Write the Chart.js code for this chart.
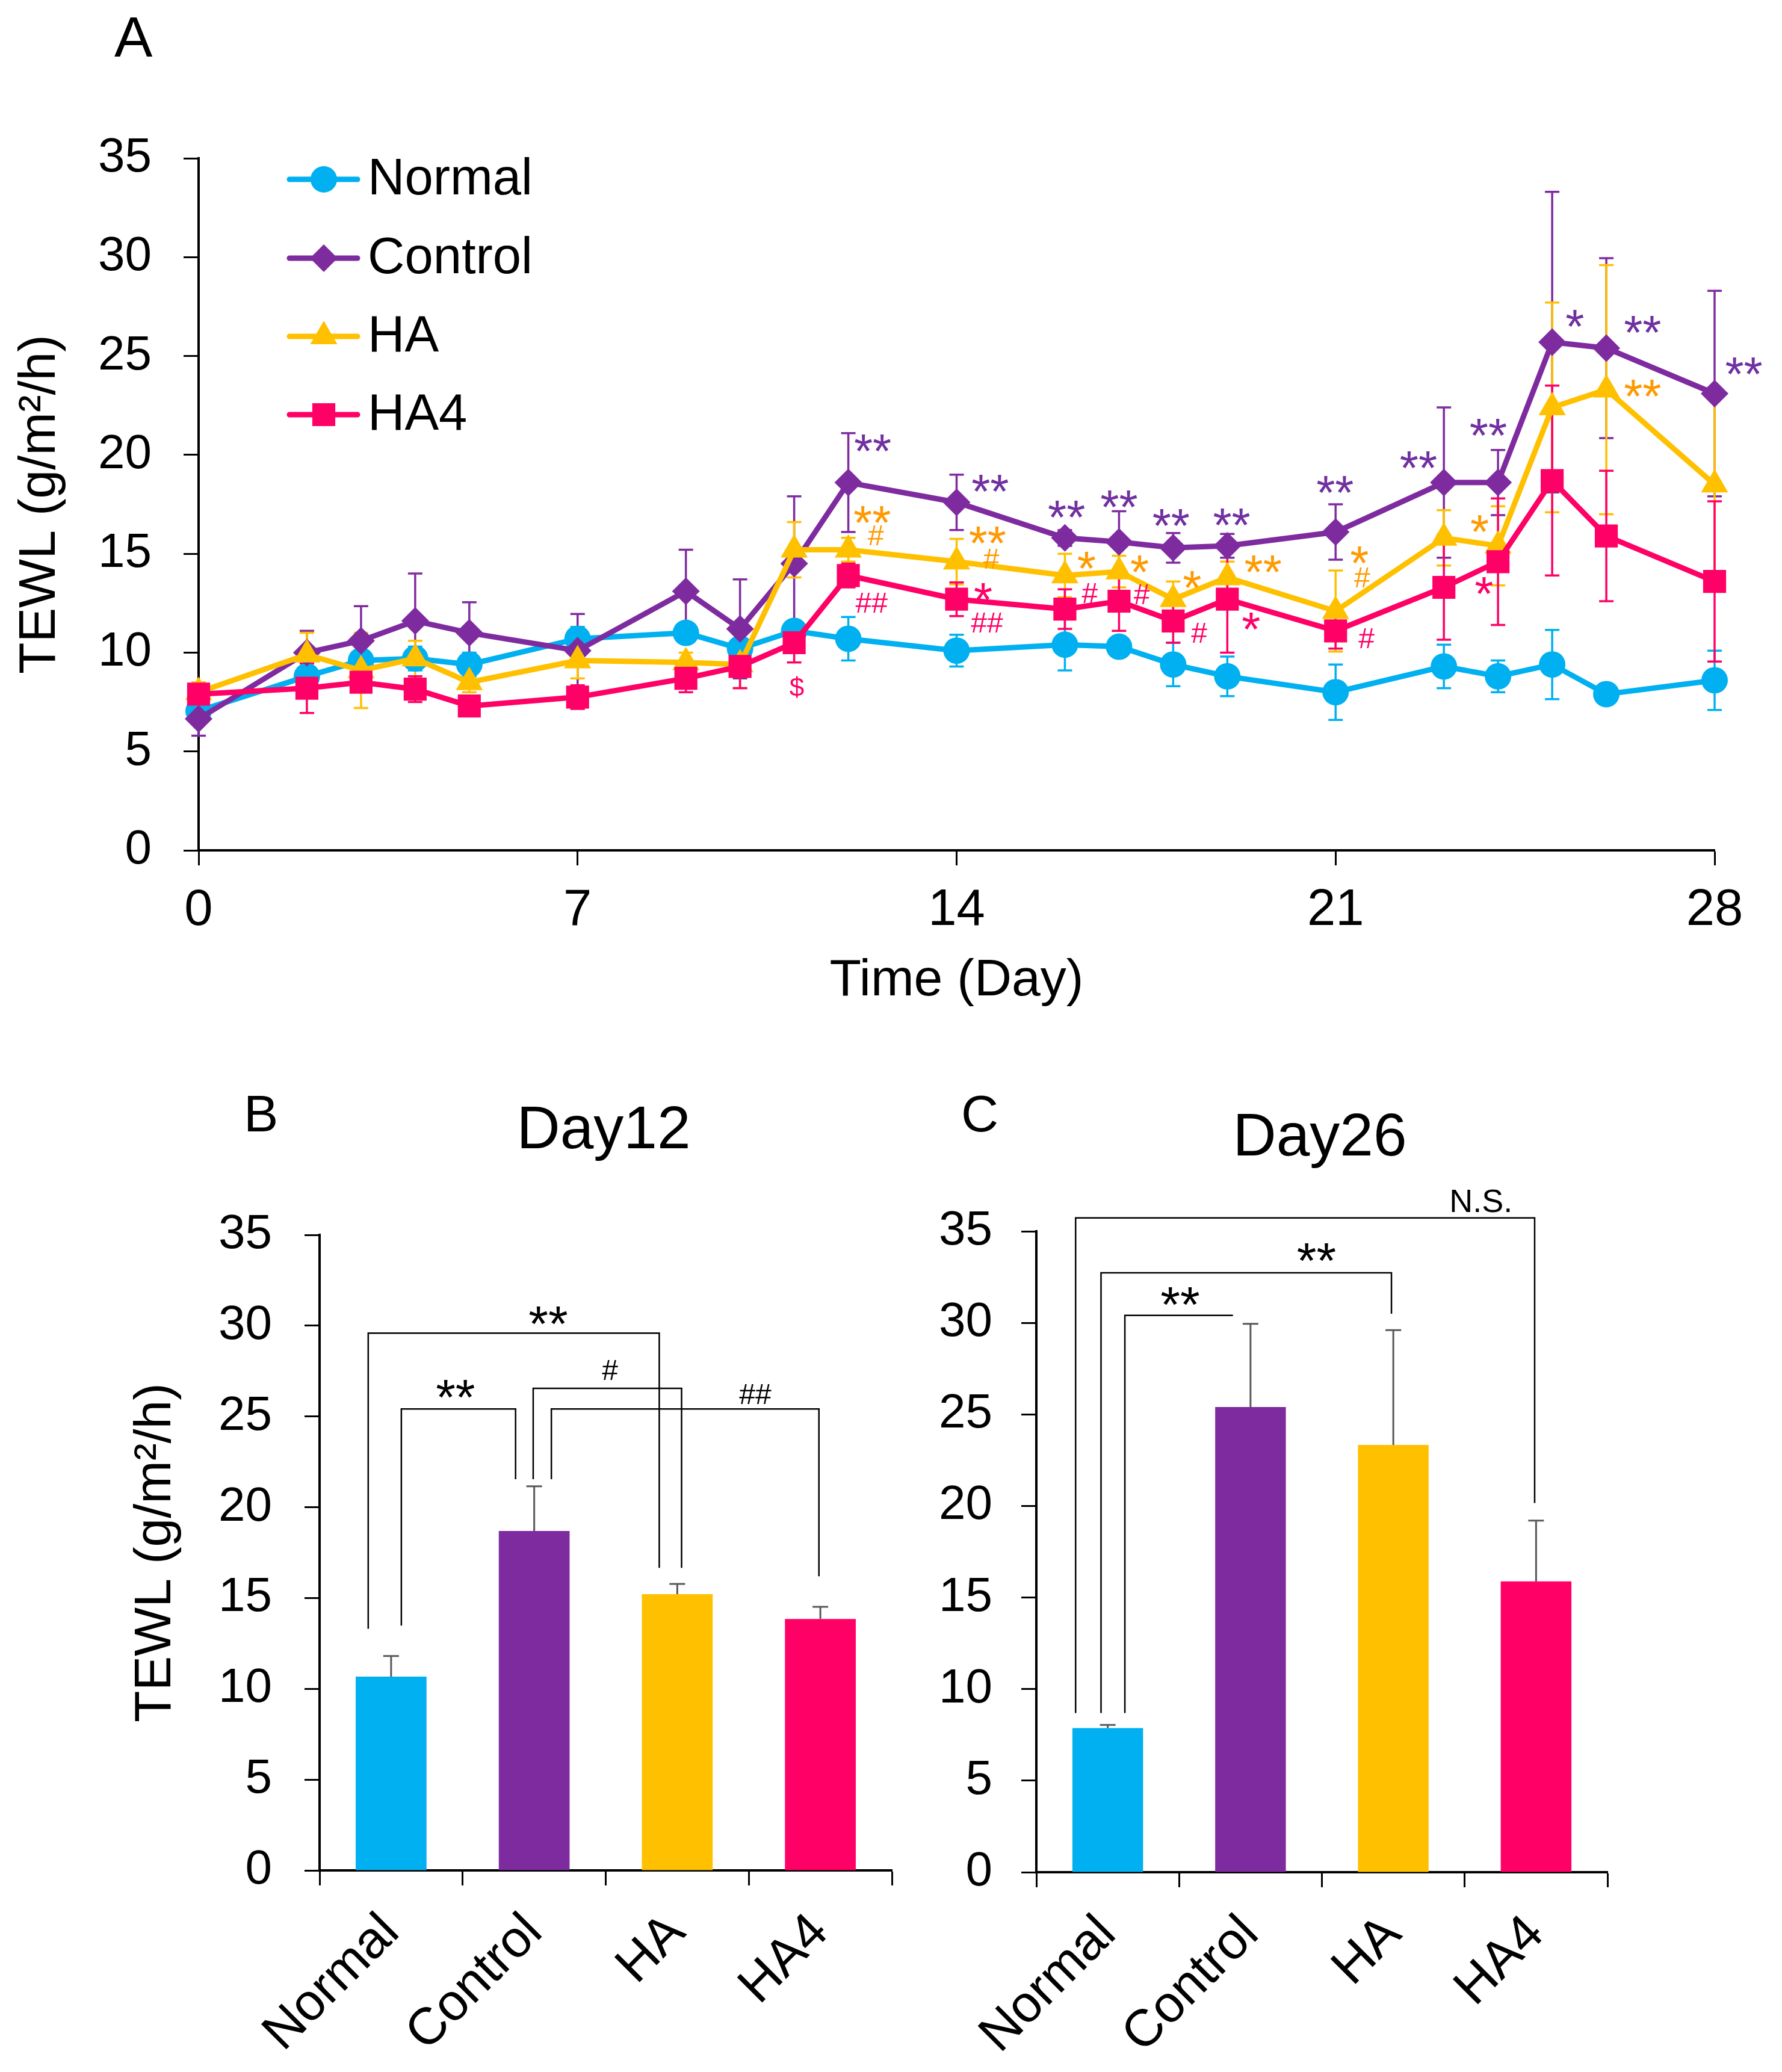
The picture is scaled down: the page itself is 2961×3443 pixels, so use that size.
<!DOCTYPE html>
<html><head><meta charset="utf-8">
<script src="https://cdn.jsdelivr.net/npm/chart.js@4.4.0/dist/chart.umd.min.js"></script>
<style>
html,body{margin:0;padding:0;background:#fff;}
body{width:2961px;height:3443px;position:relative;overflow:hidden;font-family:"Liberation Sans",Arial,sans-serif;}
canvas{position:absolute;}
.lbl{position:absolute;color:#000;font-family:"Liberation Sans",Arial,sans-serif;line-height:1;white-space:nowrap;}
</style></head><body>
<div class="lbl" style="left:190px;top:14px;font-size:95px;">A</div>
<div class="lbl" style="left:405px;top:1807px;font-size:86px;">B</div>
<div class="lbl" style="left:1597px;top:1807px;font-size:86px;">C</div>
<div class="lbl" style="left:1003px;top:1823px;font-size:100px;transform:translateX(-50%);">Day12</div>
<div class="lbl" style="left:2193px;top:1835px;font-size:100px;transform:translateX(-50%);">Day26</div>
<canvas id="cA" width="2961" height="1720" style="left:0;top:0;width:2961px;height:1720px;"></canvas>
<canvas id="cB" width="1380" height="1493" style="left:160px;top:1950px;width:1380px;height:1493px;"></canvas>
<canvas id="cC" width="1416" height="1493" style="left:1545px;top:1950px;width:1416px;height:1493px;"></canvas>
<script>
// ---------- DATA ----------
const days = [0,2,3,4,5,7,9,10,11,12,14,16,17,18,19,21,23,24,25,26,28];
const seriesNames = ['Normal','Control','HA','HA4'];
const normalMean  = [7.05,8.8,9.6,9.7,9.4,10.7,11.0,10.2,11.1,10.7,10.1,10.4,10.3,9.4,8.8,8.0,9.3,8.8,9.4,7.9,8.6];
const normalErr   = [0.3,0.4,0.5,0.6,0.6,0.6,0.5,0.5,0.5,1.1,0.8,1.3,0.3,1.1,1.0,1.4,1.1,0.8,1.75,0.2,1.5];
const controlMean = [6.65,10.0,10.6,11.6,11.0,10.1,13.1,11.2,14.5,18.6,17.6,15.8,15.6,15.3,15.4,16.1,18.6,18.6,25.7,25.4,23.1];
const controlErr  = [0.85,1.1,1.75,2.4,1.55,1.85,2.1,2.5,3.4,2.5,1.4,0.4,1.55,0.75,0.6,1.4,3.8,1.65,7.6,4.55,5.2];
const haMean      = [8.0,9.9,9.1,9.7,8.5,9.6,9.5,9.4,15.2,15.2,14.6,13.9,14.1,12.7,13.8,12.1,15.8,15.4,22.4,23.3,18.5];
const haErr       = [0.5,1.1,1.9,0.9,0.5,0.9,0.5,1.2,1.4,0.6,1.15,1.1,0.8,0.9,0.8,2.05,1.4,2.0,5.3,6.3,4.7];
const ha4Mean     = [7.9,8.2,8.5,8.15,7.3,7.75,8.7,9.3,10.5,13.9,12.7,12.2,12.6,11.6,12.7,11.1,13.3,14.6,18.7,15.9,13.6];
const ha4Err      = [0.3,1.25,0.5,0.65,0.3,0.6,0.7,1.1,1.0,0.6,0.85,1.0,1.5,1.1,2.7,0.9,2.65,3.2,4.8,3.3,4.05];
const dayTicks = [0,7,14,21,28];
const yTicks = [0,5,10,15,20,25,30,35];

// significance marks for panel A: [day, value, text]
const sigControl = [[12.45,20.6,'**'],[14.62,18.55,'**'],[16.03,17.23,'**'],[17.0,17.77,'**'],[17.96,16.83,'**'],[19.08,16.86,'**'],[20.99,18.5,'**'],[22.53,19.75,'**'],[23.82,21.37,'**'],[25.42,26.9,'*'],[26.67,26.6,'**'],[28.54,24.5,'**']];
const sigHA = [[12.44,16.96,'**'],[12.51,15.94,'#'],[14.57,15.94,'**'],[14.64,14.74,'#'],[16.4,14.65,'*'],[17.38,14.48,'*'],[18.35,13.69,'*'],[19.66,14.48,'**'],[21.44,14.94,'*'],[21.49,13.8,'#'],[23.66,16.5,'*'],[26.67,23.35,'**']];
const sigHA4 = [[11.05,8.26,'$'],[12.43,12.53,'##'],[14.49,13.08,'*'],[14.56,11.52,'##'],[16.46,13.02,'#'],[17.42,12.96,'#'],[18.48,11.0,'#'],[19.44,11.58,'*'],[21.57,10.73,'#'],[23.74,13.38,'*']];

// panel B (Day12) and C (Day26)
const groups = ['Normal','Control','HA','HA4'];
const day12Mean = [10.67,18.69,15.21,13.85];
const day12Err  = [1.14,2.46,0.57,0.67];
const day26Mean = [7.87,25.4,23.33,15.88];
const day26Err  = [0.17,4.55,6.27,3.32];
// brackets: [leftIndex, leftBottom, rightIndex, rightBottom(null = none), topValue]
const bracketsB = [[-0.16,13.31,1.874,16.66,29.59],[0.0715,13.48,0.87,21.54,25.41],[0.993,21.54,2.03,16.66,26.55],[1.12,21.54,2.99,16.2,25.41]];
const bracketTextB = [[1.098,30.56,'**'],[0.45,26.5,'**'],[1.53,27.57,'#'],[2.545,26.25,'##']];
const bracketsC = [[-0.225,8.69,2.99,20.16,35.73],[-0.047,8.69,1.987,30.5,32.73],[0.12,8.69,0.877,null,30.41]];
const bracketTextC = [[2.614,36.65,'N.S.'],[1.462,33.84,'**'],[0.507,31.46,'**']];

// ---------- STYLE ----------
const FONT = 'Liberation Sans';
const COLORS = ['#00B0F0','#7F2BA0','#FFC000','#FF0066'];
const SIGCOLORS = {control:'#7030A0', ha:'#FF9900', ha4:'#FF0066'};
const STYLES = ['circle','rectRot','triangle','rect'];
const RADII = [22,23,26,27];

function centerText(ctx, text, x, y){
  const m = ctx.measureText(text);
  const a = m.actualBoundingBoxAscent, d = m.actualBoundingBoxDescent;
  ctx.textAlign = 'center';
  ctx.textBaseline = 'alphabetic';
  ctx.fillText(text, x, y + (a - d) / 2);
}
function drawMarker(ctx, style, r, x, y, color){
  ctx.save();
  ctx.fillStyle = color;
  ctx.beginPath();
  if (style === 'circle') { ctx.arc(x, y, r, 0, Math.PI*2); }
  else if (style === 'rectRot') { ctx.moveTo(x, y-r); ctx.lineTo(x+r, y); ctx.lineTo(x, y+r); ctx.lineTo(x-r, y); ctx.closePath(); }
  else if (style === 'triangle') { const s = Math.sin(Math.PI*2/3)*r; ctx.moveTo(x, y-r); ctx.lineTo(x+s, y+r/2); ctx.lineTo(x-s, y+r/2); ctx.closePath(); }
  else { const s = Math.SQRT1_2*r; ctx.rect(x-s, y-s, 2*s, 2*s); }
  ctx.fill();
  ctx.restore();
}

const means = [normalMean, controlMean, haMean, ha4Mean];
const errs = [normalErr, controlErr, haErr, ha4Err];

const errorBarsA = {
  id: 'errorBarsA',
  beforeDatasetsDraw(chart){
    const {ctx, scales:{x, y}} = chart;
    ctx.save();
    for (let i = 0; i < means.length; i++) {
      ctx.strokeStyle = COLORS[i];
      ctx.lineWidth = 3.5;
      for (let j = 0; j < days.length; j++) {
        const px = x.getPixelForValue(days[j]);
        const pt = y.getPixelForValue(means[i][j] + errs[i][j]);
        const pb = y.getPixelForValue(means[i][j] - errs[i][j]);
        ctx.beginPath();
        ctx.moveTo(px, pt); ctx.lineTo(px, pb);
        ctx.moveTo(px-12, pt); ctx.lineTo(px+12, pt);
        ctx.moveTo(px-12, pb); ctx.lineTo(px+12, pb);
        ctx.stroke();
      }
    }
    ctx.restore();
  }
};
const sigA = {
  id: 'sigA',
  afterDatasetsDraw(chart){
    const {ctx, scales:{x, y}} = chart;
    ctx.save();
    const sets = [[sigControl, SIGCOLORS.control],[sigHA, SIGCOLORS.ha],[sigHA4, SIGCOLORS.ha4]];
    for (const [list, col] of sets) {
      ctx.fillStyle = col;
      for (const [d, v, t] of list) {
        const fs = t.indexOf('*') >= 0 ? 80 : (t === '$' ? 44 : 48);
        ctx.font = fs + 'px "' + FONT + '"';
        centerText(ctx, t, x.getPixelForValue(d), y.getPixelForValue(v));
      }
    }
    ctx.restore();
  }
};
const legendA = {
  id: 'legendA',
  afterDraw(chart){
    const {ctx} = chart;
    const rows = [298, 429, 559, 689];
    ctx.save();
    chart.data.datasets.forEach((ds, i) => {
      const yy = rows[i];
      ctx.strokeStyle = ds.borderColor;
      ctx.lineWidth = 9;
      ctx.lineCap = 'round';
      ctx.beginPath(); ctx.moveTo(481, yy); ctx.lineTo(594, yy); ctx.stroke();
      drawMarker(ctx, ds.pointStyle, ds.pointRadius, 538, yy, ds.borderColor);
      ctx.fillStyle = '#000';
      ctx.font = '85px "' + FONT + '"';
      ctx.textAlign = 'left';
      ctx.textBaseline = 'middle';
      ctx.fillText(ds.label, 611, yy + 2);
    });
    ctx.restore();
  }
};

const datasetsA = seriesNames.map((name, i) => ({
  label: name,
  data: days.map((d, j) => ({x: d, y: means[i][j]})),
  borderColor: COLORS[i],
  backgroundColor: COLORS[i],
  pointBackgroundColor: COLORS[i],
  pointBorderColor: COLORS[i],
  pointBorderWidth: 0,
  pointStyle: STYLES[i],
  pointRadius: RADII[i],
  borderWidth: 9,
  tension: 0,
  clip: false,
  order: 4 - i
}));

const axisCommon = {
  grid: {drawOnChartArea: false, drawTicks: true, tickLength: 25, tickWidth: 3, tickColor: '#000'},
  border: {display: true, color: '#000', width: 4}
};

new Chart(document.getElementById('cA'), {
  type: 'line',
  data: {datasets: datasetsA},
  options: {
    responsive: false, animation: false, devicePixelRatio: 1,
    layout: {padding: {top: 263, right: 112, left: 0, bottom: 0}},
    plugins: {legend: {display: false}, tooltip: {enabled: false}},
    scales: {
      x: Object.assign({}, axisCommon, {
        type: 'linear', min: 0, max: 28,
        afterBuildTicks: s => { s.ticks = dayTicks.map(v => ({value: v})); },
        ticks: {color: '#000', font: {family: FONT, size: 85}, padding: 25, maxRotation: 0},
        title: {display: true, text: 'Time (Day)', color: '#000', font: {family: FONT, size: 86}, padding: {top: 0, bottom: 38}},
        afterFit: s => { s.height = 1720 - 1413; }
      }),
      y: Object.assign({}, axisCommon, {
        min: 0, max: 35,
        afterBuildTicks: s => { s.ticks = yTicks.map(v => ({value: v})); },
        ticks: {color: '#000', font: {family: FONT, size: 80}, padding: 53},
        title: {display: true, text: 'TEWL (g/m²/h)', color: '#000', font: {family: FONT, size: 86}, padding: {top: 16, bottom: 0}},
        afterFit: s => { s.width = 330; }
      })
    }
  },
  plugins: [errorBarsA, sigA, legendA]
});

function barExtras(meansArr, errArr, brackets, texts){
  return {
    id: 'barExtras',
    afterDatasetsDraw(chart){
      const {ctx, scales:{x, y}} = chart;
      ctx.save();
      ctx.strokeStyle = '#595959';
      ctx.lineWidth = 3;
      for (let i = 0; i < meansArr.length; i++) {
        const px = x.getPixelForValue(i);
        const p0 = y.getPixelForValue(meansArr[i]);
        const p1 = y.getPixelForValue(meansArr[i] + errArr[i]);
        ctx.beginPath();
        ctx.moveTo(px, p0); ctx.lineTo(px, p1);
        ctx.moveTo(px-13, p1); ctx.lineTo(px+13, p1);
        ctx.stroke();
      }
      ctx.strokeStyle = '#000';
      ctx.lineWidth = 2.5;
      for (const [xl, yl, xr, yr, top] of brackets) {
        ctx.beginPath();
        ctx.moveTo(x.getPixelForValue(xl), y.getPixelForValue(yl));
        ctx.lineTo(x.getPixelForValue(xl), y.getPixelForValue(top));
        ctx.lineTo(x.getPixelForValue(xr), y.getPixelForValue(top));
        if (yr !== null) ctx.lineTo(x.getPixelForValue(xr), y.getPixelForValue(yr));
        ctx.stroke();
      }
      ctx.fillStyle = '#000';
      for (const [ix, v, t] of texts) {
        const fs = t.indexOf('*') >= 0 ? 84 : (t === 'N.S.' ? 54 : 48);
        ctx.font = fs + 'px "' + FONT + '"';
        centerText(ctx, t, x.getPixelForValue(ix), y.getPixelForValue(v));
      }
      ctx.restore();
    }
  };
}

function barChart(id, meansArr, errArr, brackets, texts, yWidth, padTop, padRight, xHeight, showTitle){
  return new Chart(document.getElementById(id), {
    type: 'bar',
    data: {labels: groups, datasets: [{data: meansArr, backgroundColor: COLORS, borderWidth: 0, barPercentage: 0.495, categoryPercentage: 1}]},
    options: {
      responsive: false, animation: false, devicePixelRatio: 1,
      layout: {padding: {top: padTop, right: padRight, left: 0, bottom: 0}},
      plugins: {legend: {display: false}, tooltip: {enabled: false}},
      scales: {
        x: Object.assign({}, axisCommon, {
          grid: Object.assign({}, axisCommon.grid, {offset: true}),
          ticks: {color: '#000', font: {family: FONT, size: 86}, padding: 28, minRotation: 45, maxRotation: 45, autoSkip: false},
          afterFit: s => { s.height = xHeight; }
        }),
        y: Object.assign({}, axisCommon, {
          min: 0, max: 35,
          afterBuildTicks: s => { s.ticks = yTicks.map(v => ({value: v})); },
          ticks: {color: '#000', font: {family: FONT, size: 80}, padding: showTitle ? 54 : 48},
          title: {display: showTitle, text: 'TEWL (g/m²/h)', color: '#000', font: {family: FONT, size: 86}, padding: {top: 48, bottom: 0}},
          afterFit: s => { s.width = yWidth; }
        })
      }
    },
    plugins: [barExtras(meansArr, errArr, brackets, texts)]
  });
}

barChart('cB', day12Mean, day12Err, bracketsB, bracketTextB, 371, 90, 58, 3443 - 3108, true);
barChart('cC', day26Mean, day26Err, bracketsC, bracketTextC, 177, 95, 290, 3443 - 3111, false);
</script>
</body></html>
